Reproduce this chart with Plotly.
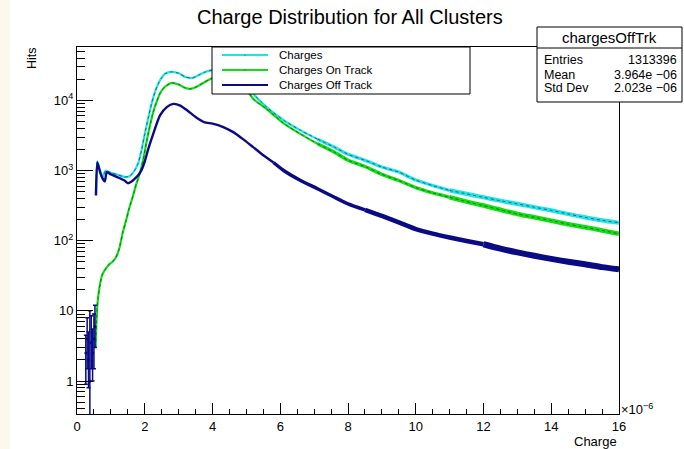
import plotly.graph_objects as go

# ---------------- data ----------------
charges_x = [0.56, 0.60, 0.68, 0.75, 0.85, 1.0, 1.2, 1.4, 1.55, 1.7, 1.8, 1.9, 2.0, 2.1, 2.2, 2.3,
             2.4, 2.5, 2.6, 2.8, 3.0, 3.2, 3.4, 3.6, 3.8, 4.0, 4.3, 4.6, 4.9, 5.2, 5.6, 6.1, 6.6,
             7.1, 7.6, 8.0, 8.5, 9.0, 9.5, 10.0, 10.5, 11.0, 11.5, 12.0, 12.5, 13.0, 13.5, 14.0,
             14.5, 15.0, 15.5, 16.0]
charges_y = [450, 1350, 1000, 800, 1000, 930, 870, 810, 830, 1000, 1250, 1900, 3300, 5500, 8900, 13000,
             17300, 21000, 24000, 25500, 24300, 21500, 20800, 23000, 25500, 27000, 29000, 27000, 20500,
             12500, 8000, 5200, 3730, 2800, 2150, 1700, 1400, 1120, 950, 730, 610, 520, 465, 415, 370,
             335, 300, 270, 240, 215, 195, 180]

ontrk_x = [0.55, 0.58, 0.62, 0.68, 0.75, 0.85, 0.95, 1.05, 1.15, 1.25, 1.35, 1.45, 1.55, 1.65, 1.75,
           1.85, 1.95, 2.05, 2.15, 2.25, 2.35, 2.45, 2.55, 2.65, 2.8, 3.0, 3.2, 3.35, 3.55, 3.75, 3.95,
           4.3, 4.6, 4.9, 5.2, 5.6, 6.1, 6.6, 7.1, 7.6, 8.0, 8.5, 9.0, 9.5, 10.0, 10.5, 11.0, 11.5,
           12.0, 12.5, 13.0, 13.5, 14.0, 14.5, 15.0, 15.5, 16.0]
ontrk_y = [3, 8, 15, 24, 33, 40, 46, 50, 58, 78, 130, 195, 300, 430, 640,
           900, 1400, 2500, 4300, 6800, 9500, 12500, 14800, 16300, 17700, 16800, 15000, 14600, 15800,
           18000, 20300, 23500, 22000, 17000, 10500, 7500, 4700, 3300, 2400, 1820, 1400, 1140, 880,
           720, 570, 480, 415, 360, 316, 275, 240, 215, 193, 172, 155, 140, 125]

offtrk_x = [0.56, 0.60, 0.68, 0.75, 0.82, 0.88, 1.0, 1.2, 1.4, 1.5, 1.6, 1.7, 1.8, 1.9, 2.0, 2.1,
            2.25, 2.45, 2.65, 2.85, 3.05, 3.25, 3.5, 3.75, 4.0, 4.3, 4.6, 4.9, 5.2, 5.5, 5.8, 6.1,
            6.6, 7.1, 7.6, 8.0, 8.5, 9.0, 9.5, 10.0, 10.5, 11.0, 11.5, 12.0, 12.5, 13.0, 13.5, 14.0,
            14.5, 15.0, 15.5, 16.0]
offtrk_y = [440, 1300, 950, 780, 700, 950, 880, 800, 720, 660, 690, 760, 850, 1000, 1350, 2000,
            3330, 6100, 8000, 8900, 8400, 7200, 5800, 4900, 4650, 4200, 3550, 2800, 2150, 1650, 1300,
            1000, 720, 550, 415, 335, 275, 225, 182, 146, 126, 111, 99, 89, 77, 68, 61, 55, 50, 46,
            42, 39]

# low-statistics off-track bins (with error bars as seen)
offlow_x = [0.26, 0.30, 0.34, 0.38, 0.42, 0.46, 0.50, 0.53]
offlow_y = [2.5, 4, 2, 1, 3.5, 2.5, 4, 6]
offlow_up = [2, 4, 3, 9, 5, 3, 5, 6]
offlow_dn = [1.6, 2.5, 1.2, 0.99, 2, 1.5, 2.5, 3]

x_ticks = [0, 2, 4, 6, 8, 10, 12, 14, 16]
y_ticks = [1, 10, 100, 1000, 10000]
y_ticktext = ["1", "10", "10<sup>2</sup>", "10<sup>3</sup>", "10<sup>4</sup>"]

stats_title = "chargesOffTrk"
stats_names = ["Entries", "Mean", "Std Dev"]
stats_values = ["1313396", "3.964e −06", "2.023e −06"]

legend_names = ["Charges", "Charges On Track", "Charges Off Track"]

# ---------------- styling ----------------
CYAN = "#1fe3ea"
GREEN = "#10e010"
NAVY = "#0a0a85"
FONT = "Liberation Sans, Arial, sans-serif"

W, H = 684, 449
L, R, T, B = 77, 619, 47, 414


def px(x):
    return (x - L) / (R - L)


def py(y):
    return (B - y) / (B - T)


fig = go.Figure()


def add_series(xs, ys, color, name, widths, dotted):
    """Draw one histogram series; the noisy tail is drawn as a thicker band.
    widths: list of (x_start, x_end, line_width)."""
    for j, (a, b, w) in enumerate(widths):
        idx = [i for i, v in enumerate(xs) if a <= v <= b]
        sx = [xs[i] for i in idx]
        sy = [ys[i] for i in idx]
        fig.add_trace(go.Scatter(x=sx, y=sy, mode="lines", name=name, showlegend=False,
                                 line=dict(color=color, width=w, shape="spline", smoothing=0.6)))
        if dotted:
            fig.add_trace(go.Scatter(x=sx, y=sy, mode="lines", showlegend=False, hoverinfo="skip",
                                     line=dict(color="#224444", width=0.8, dash="dot",
                                               shape="spline", smoothing=0.6)))


add_series(charges_x, charges_y, CYAN, legend_names[0], [(0, 7.1, 2.2), (7.1, 11.0, 3.2), (11.0, 16, 4.2)], True)
add_series(ontrk_x, ontrk_y, GREEN, legend_names[1], [(0, 7.1, 2.2), (7.1, 11.0, 3.4), (11.0, 16, 4.6)], True)
add_series(offtrk_x, offtrk_y, NAVY, legend_names[2],
           [(0, 5.8, 2.4), (5.8, 8.5, 3.4), (8.5, 12.0, 4.6), (12.0, 16, 6.0)], False)

fig.add_trace(go.Scatter(x=offlow_x, y=offlow_y, mode="markers", showlegend=False,
                         marker=dict(color=NAVY, size=3),
                         error_y=dict(type="data", symmetric=False, array=offlow_up,
                                      arrayminus=offlow_dn, color=NAVY, thickness=1.5, width=2)))

shapes = []
annotations = []

# cream strip at left edge of the picture
shapes.append(dict(type="rect", xref="paper", yref="paper", x0=px(0), x1=px(10), y0=py(H), y1=py(0),
                   fillcolor="#fcf8ec", line=dict(width=0), layer="below"))

# legend box
shapes.append(dict(type="rect", xref="paper", yref="paper", x0=px(212), x1=px(470), y0=py(94), y1=py(47),
                   fillcolor="white", line=dict(color="black", width=1), layer="above"))
for i, (nm, col) in enumerate(zip(legend_names, [CYAN, GREEN, NAVY])):
    yy = 55 + 15 * i
    shapes.append(dict(type="line", xref="paper", yref="paper", x0=px(222), x1=px(268), y0=py(yy), y1=py(yy),
                       line=dict(color=col, width=2), layer="above"))
    if i < 2:
        shapes.append(dict(type="circle", xref="paper", yref="paper", x0=px(244.5), x1=px(245.5),
                           y0=py(yy + 0.5), y1=py(yy - 0.5), fillcolor="#333", line=dict(width=0),
                           layer="above"))
    annotations.append(dict(xref="paper", yref="paper", x=px(277), y=py(yy), text=nm, showarrow=False,
                            xanchor="left", yanchor="middle", font=dict(family=FONT, size=11.5, color="black")))

# stats box
shapes.append(dict(type="rect", xref="paper", yref="paper", x0=px(537), x1=px(682), y0=py(102), y1=py(27),
                   fillcolor="white", line=dict(color="black", width=1), layer="above"))
shapes.append(dict(type="line", xref="paper", yref="paper", x0=px(537), x1=px(682), y0=py(48), y1=py(48),
                   line=dict(color="black", width=1), layer="above"))
annotations.append(dict(xref="paper", yref="paper", x=px(609.5), y=py(37.5), text=stats_title, showarrow=False,
                        xanchor="center", yanchor="middle", font=dict(family=FONT, size=15, color="black")))
for i, (nm, val) in enumerate(zip(stats_names, stats_values)):
    yy = [60, 74.5, 88.5][i]
    annotations.append(dict(xref="paper", yref="paper", x=px(542), y=py(yy), text=nm, showarrow=False,
                            xanchor="left", yanchor="middle", font=dict(family=FONT, size=12.5, color="black")))
    annotations.append(dict(xref="paper", yref="paper", x=px(679), y=py(yy), text=val, showarrow=False,
                            xanchor="right", yanchor="middle", font=dict(family=FONT, size=12.5, color="black")))

# title and axis titles
annotations.append(dict(xref="paper", yref="paper", x=px(350), y=py(17), text="Charge Distribution for All Clusters",
                        showarrow=False, xanchor="center", yanchor="middle",
                        font=dict(family=FONT, size=20, color="black")))
annotations.append(dict(xref="paper", yref="paper", x=px(32), y=py(58), text="Hits", showarrow=False,
                        textangle=-90, xanchor="center", yanchor="middle",
                        font=dict(family=FONT, size=12.5, color="black")))
annotations.append(dict(xref="paper", yref="paper", x=px(619), y=py(441), text="Charge", showarrow=False,
                        xanchor="right", yanchor="middle", font=dict(family=FONT, size=13, color="black")))
annotations.append(dict(xref="paper", yref="paper", x=px(619), y=py(409), text="×10<sup>−6</sup>", showarrow=False,
                        xanchor="left", yanchor="middle", font=dict(family=FONT, size=13, color="black")))

minor_y = [m * 10 ** d for d in range(-1, 5) for m in range(2, 10)]

fig.update_layout(
    width=W, height=H, autosize=False,
    margin=dict(l=L, r=W - R, t=T, b=H - B),
    paper_bgcolor="white", plot_bgcolor="white",
    showlegend=False,
    shapes=shapes, annotations=annotations,
    font=dict(family=FONT, color="black"),
)
fig.update_xaxes(range=[0, 16], tickmode="array", tickvals=x_ticks, ticktext=[str(v) for v in x_ticks],
                 ticks="inside", ticklen=11, tickcolor="black", tickwidth=1,
                 minor=dict(ticks="inside", ticklen=5.5, tickcolor="black", dtick=0.5, tick0=0, showgrid=False),
                 showline=True, linecolor="black", linewidth=1, mirror=True, showgrid=False, zeroline=False,
                 tickfont=dict(family=FONT, size=13, color="black"))
fig.update_yaxes(type="log", range=[-0.47, 4.76], tickmode="array", tickvals=y_ticks, ticktext=y_ticktext,
                 ticks="inside", ticklen=16, tickcolor="black", tickwidth=1,
                 minor=dict(ticks="inside", ticklen=8, tickcolor="black", tickmode="array", tickvals=minor_y,
                            showgrid=False),
                 showline=True, linecolor="black", linewidth=1, mirror=True, showgrid=False, zeroline=False,
                 tickfont=dict(family=FONT, size=13, color="black"))

fig.write_html("out.html")
